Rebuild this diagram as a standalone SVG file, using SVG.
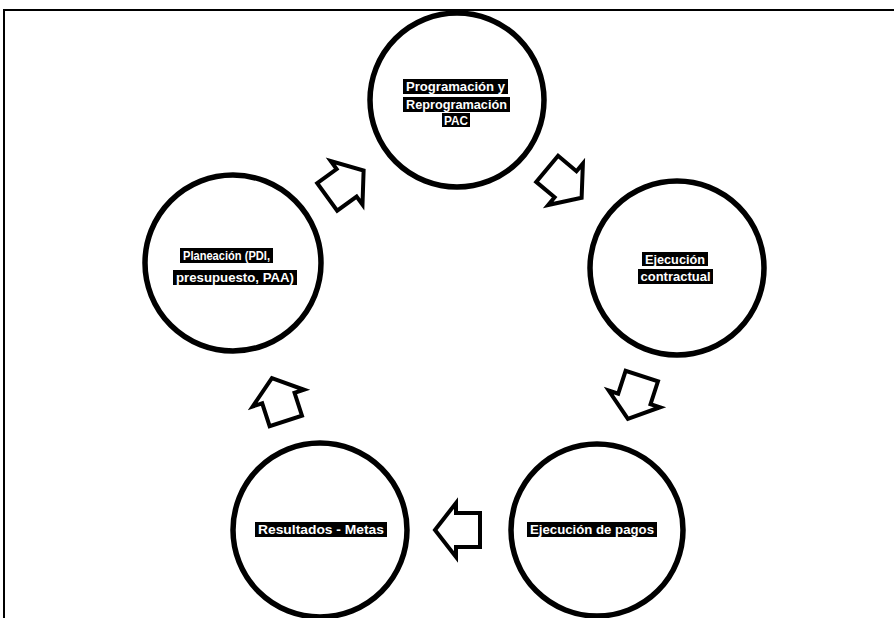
<svg xmlns="http://www.w3.org/2000/svg" width="894" height="618" viewBox="0 0 894 618">
<defs>
<style>
.node circle{fill:#fff;stroke:#000;stroke-width:5.5}
.bg{fill:#000}
.lbl{font-family:"Liberation Sans",Arial,sans-serif;font-size:13px;font-weight:bold;fill:#fff;text-anchor:middle}
.arr{fill:#fff;stroke:#000;stroke-width:4;stroke-linejoin:miter}
</style>
<path id="blk" d="M23,0 L2,27 L2,17 L-22,17 L-22,-17 L2,-17 L2,-27 Z"/>
</defs>
<rect x="0" y="0" width="894" height="618" fill="#fff"/>
<path d="M4,618 L4,10 L894,10" fill="none" stroke="#000" stroke-width="2"/>
<g id="connectors">
<use href="#blk" class="arr" transform="translate(345,184) rotate(-36)"/>
<use href="#blk" class="arr" transform="translate(564,183) rotate(40)"/>
<use href="#blk" class="arr" transform="translate(635,397) rotate(108)"/>
<use href="#blk" class="arr" transform="translate(458,530) rotate(180)"/>
<use href="#blk" class="arr" transform="translate(279,400) rotate(-108)"/>
</g>
<g id="n1" class="node">
<circle cx="457" cy="100" r="87"/>
<rect class="bg" x="403" y="79" width="105" height="15"/>
<rect class="bg" x="403" y="97" width="107" height="15"/>
<rect class="bg" x="442" y="113" width="28" height="14"/>
<text class="lbl" x="455.5" y="91" textLength="99" lengthAdjust="spacingAndGlyphs">Programación y</text>
<text class="lbl" x="456.5" y="109" textLength="101" lengthAdjust="spacingAndGlyphs">Reprogramación</text>
<text class="lbl" x="456" y="125" textLength="24" lengthAdjust="spacingAndGlyphs">PAC</text>
</g>
<g id="n2" class="node">
<circle cx="677" cy="268" r="87"/>
<rect class="bg" x="642" y="252" width="66" height="14"/>
<rect class="bg" x="638" y="269" width="75" height="15"/>
<text class="lbl" x="675" y="264" textLength="60" lengthAdjust="spacingAndGlyphs">Ejecución</text>
<text class="lbl" x="675.5" y="281" textLength="70" lengthAdjust="spacingAndGlyphs">contractual</text>
</g>
<g id="n3" class="node">
<circle cx="597" cy="530" r="86"/>
<rect class="bg" x="527" y="522" width="130" height="15"/>
<text class="lbl" x="592" y="534" textLength="124" lengthAdjust="spacingAndGlyphs">Ejecución de pagos</text>
</g>
<g id="n4" class="node">
<circle cx="320" cy="530" r="87"/>
<rect class="bg" x="255" y="522" width="132" height="15"/>
<text class="lbl" x="321" y="534" textLength="126" lengthAdjust="spacingAndGlyphs">Resultados - Metas</text>
</g>
<g id="n5" class="node">
<circle cx="233" cy="263" r="88"/>
<rect class="bg" x="180" y="248" width="93" height="15"/>
<rect class="bg" x="173" y="270" width="124" height="15"/>
<text class="lbl" x="226.5" y="260" textLength="87" lengthAdjust="spacingAndGlyphs">Planeación (PDI,</text>
<text class="lbl" x="235" y="282" textLength="118" lengthAdjust="spacingAndGlyphs">presupuesto, PAA)</text>
</g>
</svg>
